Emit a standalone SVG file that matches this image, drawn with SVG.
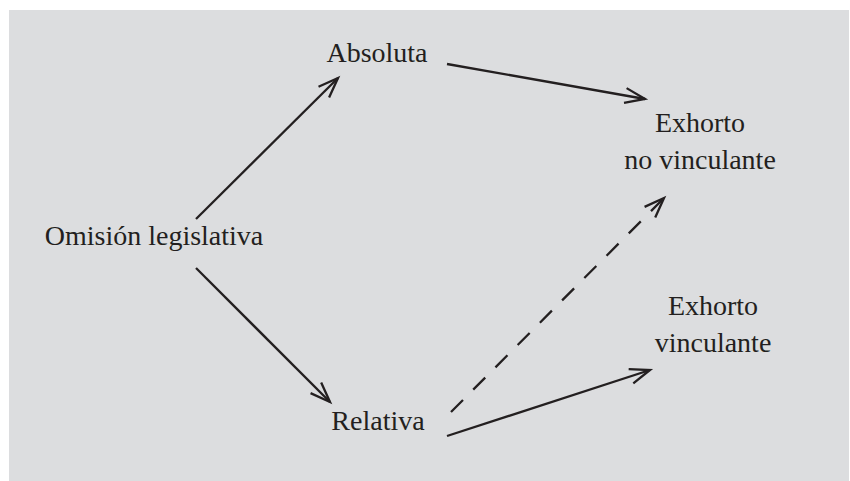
<svg xmlns="http://www.w3.org/2000/svg" width="850" height="481" viewBox="0 0 850 481">
  <defs>
    <style>
      .bg { fill: #dcdddf; }
      .lbl { font-family: "Liberation Serif", "Times New Roman", serif; font-size: 28px; fill: #231f20; text-anchor: middle; }
      .edge { stroke: #231f20; stroke-width: 2.3; fill: none; marker-end: url(#arrow); }
      .dashed { stroke-dasharray: 17 14.5; }
    </style>
    <marker id="arrow" markerUnits="userSpaceOnUse" markerWidth="30" markerHeight="30" viewBox="-25 -15 30 30" refX="0" refY="0" orient="auto" overflow="visible">
      <path d="M -20 -7.5 L 0 0 L -20 7.5" fill="none" stroke="#231f20" stroke-width="2.3" stroke-linejoin="miter"/>
    </marker>
  </defs>

  <rect class="bg" x="9" y="10" width="840" height="471"/>

  <g id="connectors">
    <line class="edge" x1="196" y1="219" x2="338" y2="78"/>
    <line class="edge" x1="447" y1="64" x2="645" y2="99"/>
    <line class="edge" x1="196" y1="268" x2="330" y2="402"/>
    <line class="edge" x1="447" y1="436" x2="650" y2="370"/>
    <line class="edge dashed" x1="451" y1="412" x2="664" y2="198"/>
  </g>

  <g id="node-omision">
    <text class="lbl" x="154" y="245">Omisión legislativa</text>
  </g>
  <g id="node-absoluta">
    <text class="lbl" x="377" y="62">Absoluta</text>
  </g>
  <g id="node-relativa">
    <text class="lbl" x="378" y="430">Relativa</text>
  </g>
  <g id="node-exhorto-no-vinculante">
    <text class="lbl" x="700" y="132">Exhorto</text>
    <text class="lbl" x="700" y="169">no vinculante</text>
  </g>
  <g id="node-exhorto-vinculante">
    <text class="lbl" x="713" y="315">Exhorto</text>
    <text class="lbl" x="713" y="352">vinculante</text>
  </g>
</svg>
